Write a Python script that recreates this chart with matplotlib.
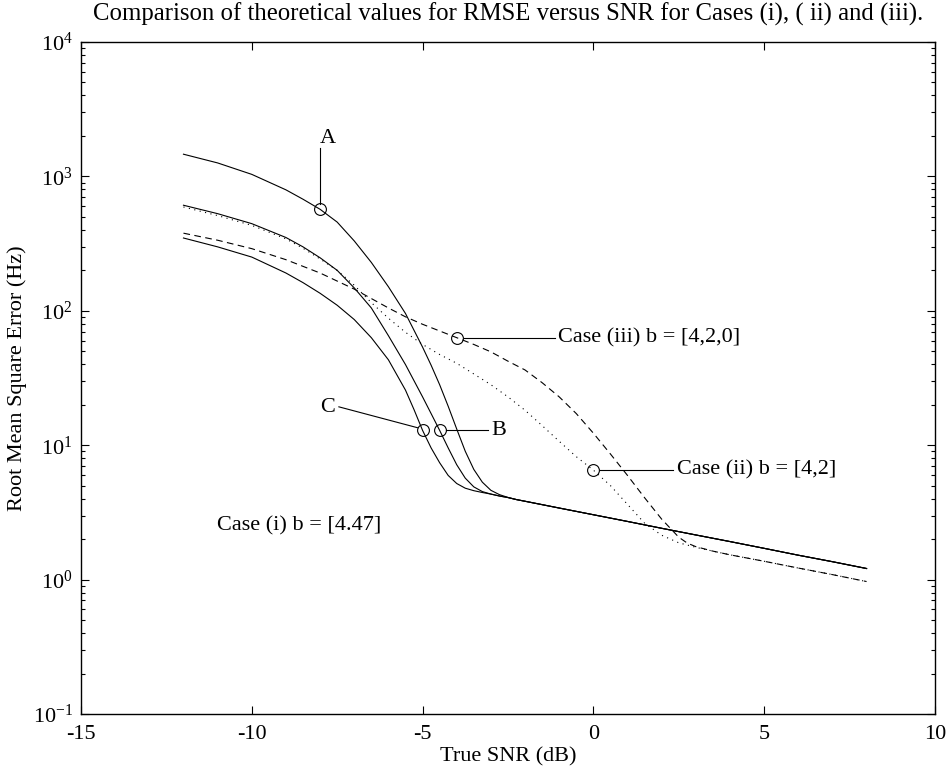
import matplotlib
matplotlib.use("Agg")
import matplotlib.pyplot as plt
from matplotlib.ticker import LogLocator, NullLocator, NullFormatter

plt.rcParams['font.family'] = ['Liberation Serif', 'DejaVu Serif']
plt.rcParams['mathtext.fontset'] = 'custom'
plt.rcParams['mathtext.rm'] = 'Liberation Serif'
plt.rcParams['axes.unicode_minus'] = False

# valores (SNR em dB, RMSE em Hz)
snr_tail = [-2, -1, 0, 1, 2, 3, 4, 5, 6, 7, 8]
rmse_tail = [3.83, 3.41, 3.04, 2.71, 2.41, 2.15, 1.92, 1.71, 1.52, 1.36, 1.21]

snr_a = [-12, -11, -10, -9, -8.5, -8, -7.5, -7, -6.5, -6, -5.5, -5, -4.75, -4.5, -4.25,
         -4, -3.75, -3.5, -3.25, -3, -2.75, -2.5, -2.25] + snr_tail
rmse_a = [1462, 1259, 1035, 794, 676, 569, 457, 331, 229, 151, 95.5, 53.7, 39.4, 28.2,
          19.5, 13.2, 9.02, 6.61, 5.31, 4.62, 4.29, 4.09, 3.94] + rmse_tail

snr_b = [-12, -11, -10, -9, -8.5, -8, -7.5, -7, -6.5, -6, -5.5, -5, -4.75, -4.5, -4.25,
         -4, -3.75, -3.5, -3.25, -3, -2.75, -2.5, -2.25] + snr_tail
rmse_b = [610, 528, 445, 351, 299, 248, 200, 148, 105, 65.3, 39.8, 22.9, 17.2, 12.9,
          9.55, 7.16, 5.69, 4.90, 4.52, 4.33, 4.19, 4.08, 3.94] + rmse_tail

snr_c = [-12, -11, -10, -9, -8.5, -8, -7.5, -7, -6.5, -6, -5.5, -5.25, -5, -4.75, -4.5,
         -4.25, -4, -3.75, -3.5, -3.25, -3, -2.75, -2.5, -2.25] + snr_tail
rmse_c = [348, 299, 251, 191, 162, 135, 110, 86.1, 63.1, 43.2, 25.7, 18.4, 12.9, 9.55,
          7.41, 5.96, 5.19, 4.79, 4.59, 4.45, 4.33, 4.19, 4.08, 3.94] + rmse_tail

# caso (ii) - pontilhado
snr_ii = [-12, -11, -10, -9, -8.5, -8, -7.5, -7, -6.5, -6, -5.5, -5, -4.5, -4, -3.5, -3,
          -2.5, -2, -1.5, -1, -0.5, 0, 0.5, 1, 1.5, 2, 2.5, 3, 3.5, 4, 5, 6, 7, 8]
rmse_ii = [592, 511, 432, 343, 292, 243, 200, 155, 115, 88.1, 69.2, 56.2, 47.3, 40.7,
           33.9, 28.2, 22.9, 18.2, 14.0, 10.7, 8.22, 6.53, 5.01, 3.63, 2.63, 2.14, 1.88,
           1.74, 1.63, 1.53, 1.37, 1.22, 1.09, 0.968]

# caso (iii) - tracejado
snr_iii = [-12, -11, -10, -9, -8, -7, -6, -5.5, -5, -4.5, -4, -3.5, -3, -2.5, -2, -1.5,
           -1, -0.5, 0, 0.5, 1, 1.5, 2, 2.5, 2.75, 3, 3.5, 4, 5, 6, 7, 8]
rmse_iii = [378, 335, 290, 240, 191, 145, 105, 90.2, 79.4, 70.8, 63.1, 56.2, 49.5, 42.2,
            36.3, 29.2, 22.9, 17.2, 12.3, 8.61, 5.96, 4.07, 2.82, 2.07, 1.87, 1.76, 1.63,
            1.53, 1.37, 1.22, 1.09, 0.968]

# pontos marcados com círculo: A, B, C, caso (iii), caso (ii)
mark_x = [-8, -4.5, -5, -4, 0]
mark_y = [569, 12.9, 12.9, 63.1, 6.53]

fig = plt.figure(figsize=(9.53, 7.77), dpi=100)
ax = fig.add_axes([0.085, 0.081, 0.896, 0.865])

lw = 0.8
ax.plot(snr_a, rmse_a, 'k-', lw=lw)
ax.plot(snr_b, rmse_b, 'k-', lw=lw)
ax.plot(snr_c, rmse_c, 'k-', lw=lw)
ax.plot(snr_ii, rmse_ii, color='k', lw=lw, linestyle=(0, (1, 4)))
ax.plot(snr_iii, rmse_iii, color='k', lw=lw, linestyle=(0, (6, 4)))
ax.plot(mark_x, mark_y, 'o', ms=8.5, mfc='none', mec='k', mew=0.8)

# linhas dos rótulos
fs = 16
ax.plot([-8, -8], [625, 1620], 'k-', lw=lw)
ax.text(-8.0, 1920, 'A', fontsize=fs, ha='left', va='center')
ax.plot([-7.45, -5.15], [19.3, 13.5], 'k-', lw=lw)
ax.text(-8.0, 19.0, 'C', fontsize=fs, ha='left', va='center')
ax.plot([-4.3, -3.08], [12.9, 12.9], 'k-', lw=lw)
ax.text(-2.98, 12.9, 'B', fontsize=fs, ha='left', va='center')
ax.plot([-3.8, -1.13], [63.1, 63.1], 'k-', lw=lw)
ax.text(-1.03, 63.1, 'Case (iii) b = [4,2,0]', fontsize=fs, ha='left', va='center')
ax.plot([0.2, 2.34], [6.53, 6.53], 'k-', lw=lw)
ax.text(2.45, 6.53, 'Case (ii) b = [4,2]', fontsize=fs, ha='left', va='center')
ax.text(-11.03, 2.5, 'Case (i) b = [4.47]', fontsize=fs, ha='left', va='center')

ax.set_yscale('log')
ax.set_xlim(-15, 10)
ax.set_ylim(1e-1, 1e4)
ax.set_xticks([-15, -10, -5, 0, 5, 10])
ax.yaxis.set_major_locator(LogLocator(base=10, numticks=10))
ax.yaxis.set_minor_locator(LogLocator(base=10, subs=range(2, 10), numticks=20))
ax.yaxis.set_minor_formatter(NullFormatter())
ax.xaxis.set_minor_locator(NullLocator())
ax.tick_params(which='both', direction='in', top=True, right=True, labelsize=fs)
ax.tick_params(which='major', length=6, width=0.8)
ax.tick_params(which='minor', length=3, width=0.8)
ax.tick_params(axis='x', pad=8)
ax.tick_params(axis='y', pad=6)
for s in ax.spines.values():
    s.set_linewidth(1.0)

ax.set_xlabel('True SNR (dB)', fontsize=fs, labelpad=2)
ax.set_ylabel('Root Mean Square Error (Hz)', fontsize=fs, labelpad=4)
# título centrado sobre a área dos eixos
fig.text(0.533, 1 - 14 / 777, 'Comparison of theoretical values for RMSE versus SNR for Cases (i), ( ii) and (iii).',
         fontsize=17.8, ha='center', va='center')

fig.savefig('out.png', dpi=100)
